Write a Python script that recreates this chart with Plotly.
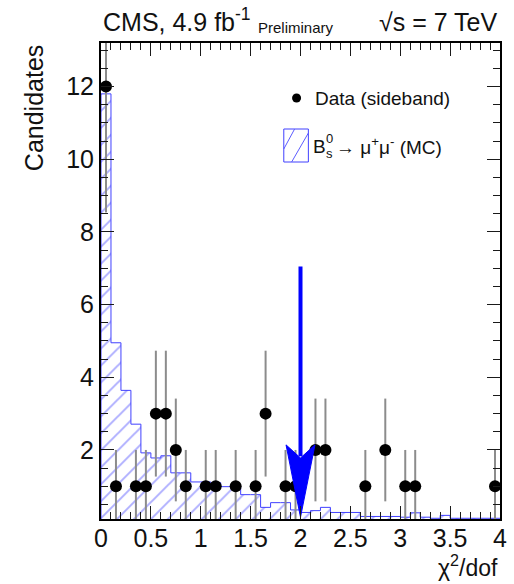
import numpy as np
import plotly.graph_objects as go

# ---- data -------------------------------------------------------------
# MC signal shape, 0.1-wide bins of chi2/dof from 0 to 4
bin_edges = [round(0.1 * i, 1) for i in range(41)]
mc_values = [11.8, 4.95, 3.64, 2.71, 1.92, 1.78, 1.84, 1.37, 1.37, 1.12,
             1.12, 1.10, 0.99, 0.99, 0.77, 0.77, 0.42, 0.55, 0.55, 0.35,
             0.28, 0.33, 0.42, 0.28, 0.28, 0.28, 0.17, 0.17, 0.17, 0.17,
             0.15, 0.27, 0.15, 0.12, 0.20, 0.12, 0.12, 0.12, 0.12, 0.12]

# sideband data (non-empty bins only)
data_x = [0.05, 0.15, 0.35, 0.45, 0.55, 0.65, 0.75, 0.85, 1.05, 1.15, 1.35,
          1.55, 1.65, 1.85, 1.95, 2.15, 2.25, 2.65, 2.85, 3.05, 3.15, 3.95]
data_n = [12, 1, 1, 1, 3, 3, 2, 1, 1, 1, 1,
          1, 3, 1, 1, 2, 2, 1, 2, 1, 1, 1]

# selection cut marked by the arrow
cut_value = 2.0
arrow_top = 7.05
arrow_tip = 0.15

x_range = [0, 4]
y_range = [0.1, 13.2]
x_ticks = [0, 0.5, 1, 1.5, 2, 2.5, 3, 3.5, 4]
y_ticks = [2, 4, 6, 8, 10, 12]

# ---- styling ----------------------------------------------------------
FONT = "Liberation Sans, Arial, Helvetica, sans-serif"
TXT = "#111111"
TICK = "#1a1a1a"
W, H = 514, 584
L, R, T, B = 101, 7, 43, 65
PW, PH = W - L - R, H - T - B

def px(xp):
    return (xp - L) / PW

def py(yp):
    return (H - B - yp) / PH

centers = [(bin_edges[i] + bin_edges[i + 1]) / 2 for i in range(len(mc_values))]
width = bin_edges[1] - bin_edges[0]

fig = go.Figure()

# hatched MC histogram
fig.add_trace(go.Bar(
    x=centers, y=mc_values, width=width,
    marker=dict(color="rgba(0,0,0,0)", line=dict(width=0),
                pattern=dict(shape="/", fgcolor="#5c5cff", bgcolor="rgba(0,0,0,0)",
                             size=12, solidity=0.16)),
    showlegend=False, hoverinfo="skip"))

# histogram outline
step_x = [bin_edges[0]] + bin_edges
step_y = [0] + mc_values + [mc_values[-1]]
fig.add_trace(go.Scatter(
    x=step_x, y=step_y, mode="lines", line=dict(color="#4040ff", width=1, shape="hv"),
    showlegend=False, hoverinfo="skip"))

# data points with sqrt(N) errors
fig.add_trace(go.Scatter(
    x=data_x, y=data_n, mode="markers",
    marker=dict(color="black", size=12),
    error_y=dict(type="data", array=list(np.sqrt(data_n)), symmetric=True,
                 color="#8c8c8c", thickness=2, width=0),
    showlegend=False))

# cut arrow: shaft and notched head
head_half = 0.145
head_top = 2.14
head_notch = 1.78
fig.add_trace(go.Scatter(
    x=[cut_value, cut_value], y=[arrow_top, head_notch + 0.05], mode="lines",
    line=dict(color="#0000ff", width=4), showlegend=False, hoverinfo="skip"))
fig.add_trace(go.Scatter(
    x=[cut_value - head_half, cut_value, cut_value + head_half, cut_value, cut_value - head_half],
    y=[head_top, head_notch, head_top, arrow_tip, head_top],
    mode="lines", fill="toself", fillcolor="#0000ff",
    line=dict(color="#0000ff", width=1), showlegend=False, hoverinfo="skip"))

# invisible point on the top/right tick axes so they are drawn
fig.add_trace(go.Scatter(x=[cut_value], y=[arrow_top], xaxis="x2", yaxis="y2", mode="markers",
                         marker=dict(opacity=0, size=1), showlegend=False, hoverinfo="skip"))

tick_style = dict(ticks="inside", tickcolor=TICK, tickwidth=1, ticklen=13,
                  showgrid=False, zeroline=False)
x_minor = dict(dtick=0.1, ticks="inside", ticklen=7, tickcolor=TICK, tickwidth=1)
y_minor = dict(dtick=0.5, ticks="inside", ticklen=7, tickcolor=TICK, tickwidth=1)
tick_font = dict(family=FONT, size=25, color=TXT)

fig.update_layout(
    xaxis=dict(range=x_range, tickvals=x_ticks, minor=x_minor, tickfont=tick_font,
               ticklabelstandoff=-4,
               showline=True, linecolor="black", linewidth=2, mirror="allticks", **tick_style),
    yaxis=dict(range=y_range, tickvals=y_ticks, minor=y_minor, tickfont=tick_font,
               showline=True, linecolor="black", linewidth=2, mirror="allticks", **tick_style),
    # tick marks along the top and right edges of the frame
    xaxis2=dict(range=x_range, tickvals=x_ticks, minor=x_minor, overlaying="x", side="top",
                anchor="y2", showticklabels=False, showline=False, **tick_style),
    yaxis2=dict(range=y_range, tickvals=y_ticks, minor=y_minor, overlaying="y", side="right",
                anchor="x2", showticklabels=False, showline=False, **tick_style),
)

ann = []
# header
ann.append(dict(text="CMS, 4.9 fb<sup>-1</sup>", x=px(101), y=py(38), xref="paper", yref="paper",
                xanchor="left", yanchor="bottom", showarrow=False,
                font=dict(family=FONT, size=25, color=TXT)))
ann.append(dict(text="Preliminary", x=px(259), y=py(28), xref="paper", yref="paper",
                xanchor="left", yanchor="middle", showarrow=False,
                font=dict(family=FONT, size=15, color=TXT)))
ann.append(dict(text="√s = 7 TeV", x=1.0, y=py(38), xref="paper", yref="paper",
                xanchor="right", yanchor="bottom", showarrow=False,
                font=dict(family=FONT, size=25, color=TXT)))
# axis titles
ann.append(dict(text="Candidates", x=px(33), y=1.0, xref="paper", yref="paper",
                xanchor="center", yanchor="top", textangle=-90, showarrow=False,
                font=dict(family=FONT, size=25, color=TXT)))
ann.append(dict(text="χ<sup>2</sup>/dof", x=1.0, y=py(583), xref="paper", yref="paper",
                xanchor="right", yanchor="bottom", showarrow=False,
                font=dict(family=FONT, size=23, color=TXT)))
# legend entries
ann.append(dict(text="Data (sideband)", x=px(317), y=py(98), xref="paper", yref="paper",
                xanchor="left", yanchor="middle", showarrow=False,
                font=dict(family=FONT, size=19, color=TXT)))
ann.append(dict(text="B", x=px(315), y=py(146), xref="paper", yref="paper",
                xanchor="left", yanchor="middle", showarrow=False,
                font=dict(family=FONT, size=19, color=TXT)))
ann.append(dict(text="s", x=px(328), y=py(153), xref="paper", yref="paper",
                xanchor="left", yanchor="middle", showarrow=False,
                font=dict(family=FONT, size=13, color=TXT)))
ann.append(dict(text="0", x=px(328), y=py(139), xref="paper", yref="paper",
                xanchor="left", yanchor="middle", showarrow=False,
                font=dict(family=FONT, size=13, color=TXT)))
ann.append(dict(text="→ μ<sup>+</sup>μ<sup>-</sup> (MC)",
                x=px(338), y=py(146), xref="paper", yref="paper",
                xanchor="left", yanchor="middle", showarrow=False,
                font=dict(family=FONT, size=19, color=TXT)))

shapes = []
# legend marker for data
shapes.append(dict(type="circle", xref="paper", yref="paper",
                   xsizemode="pixel", ysizemode="pixel",
                   xanchor=px(300), yanchor=py(98),
                   x0=-4.5, x1=4.5, y0=-4.5, y1=4.5,
                   fillcolor="black", line=dict(width=0)))
# legend hatched box for MC
bx0, bx1, by0, by1 = 287, 312, 129, 162
shapes.append(dict(type="rect", xref="paper", yref="paper",
                   x0=px(bx0), x1=px(bx1), y0=py(by1), y1=py(by0),
                   line=dict(color="#4040ff", width=1), fillcolor="rgba(0,0,0,0)"))
for (xa, ya, xb, yb) in [(bx0, by0 + 20, bx0 + 11, by0), (bx0 + 8, by1, bx1, by0 + 4)]:
    shapes.append(dict(type="line", xref="paper", yref="paper",
                       x0=px(xa), y0=py(ya), x1=px(xb), y1=py(yb),
                       line=dict(color="#5c5cff", width=1)))

fig.update_layout(
    width=W, height=H, autosize=False,
    margin=dict(l=L, r=R, t=T, b=B),
    plot_bgcolor="white", paper_bgcolor="white",
    bargap=0, barmode="overlay",
    annotations=ann, shapes=shapes,
    showlegend=False,
)

fig.write_html("out.html")
